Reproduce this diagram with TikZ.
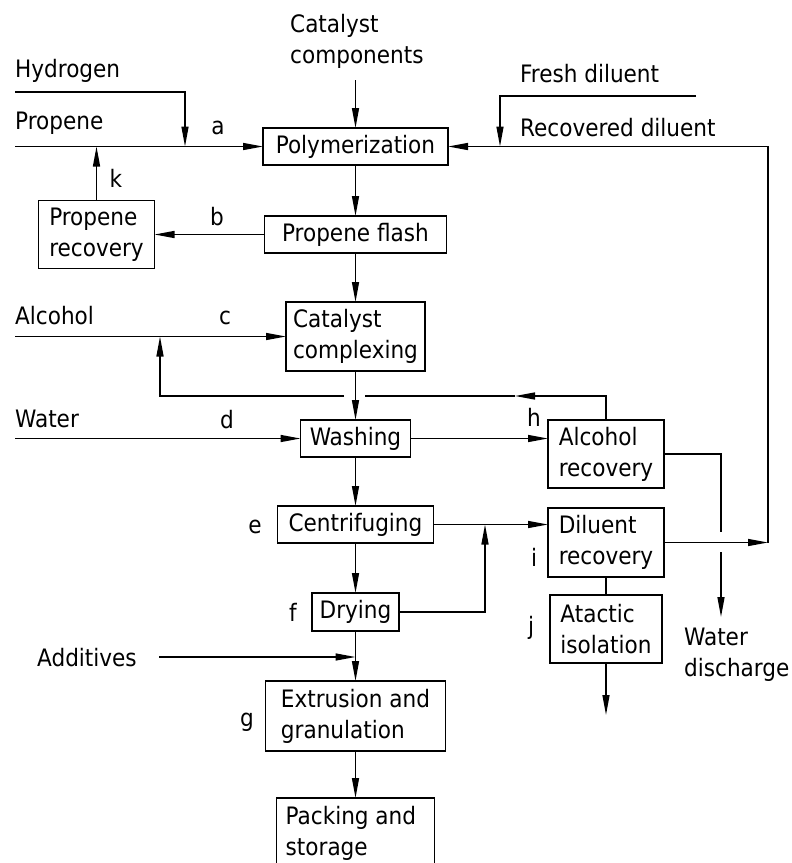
\documentclass[tikz,border=0pt]{standalone}
\usepackage{fontspec}
\setmainfont{DejaVu Sans Condensed}
\usetikzlibrary{positioning}
\usetikzlibrary{arrows.meta}

\begin{document}
\begin{tikzpicture}
			[
				x = 1pt, y = -1pt,
				font = \fontsize{24}{31}\selectfont,
				procbox/.style = {draw, rectangle, line width = 1.4pt, align = left, inner sep = 2pt, outer sep = 0pt},
				streamname/.style = {anchor = west, align = left, inner sep = 0pt},
				streamtag/.style = {inner sep = 0pt},
				pipe/.style = {line width = 1.4pt},
				flow/.style = {line width = 1.4pt, -{Triangle[length = 20pt, width = 7pt]}}
			]
			%
			\useasboundingbox (0,0) rectangle (792,863);
			%
			\node (poly) [procbox, minimum width = 185pt, minimum height = 37pt] at (355.5,146.5) {Polymerization};
			\node (flash) [procbox, minimum width = 182pt, minimum height = 37pt, below = 51pt of poly] {Propene flash};
			\node (complex) [procbox, minimum width = 139pt, minimum height = 69pt, below = 49pt of flash] {Catalyst\\complexing};
			\node (wash) [procbox, minimum width = 110pt, minimum height = 37pt, below = 49pt of complex] {Washing};
			\node (centri) [procbox, minimum width = 156pt, minimum height = 37pt, below = 49pt of wash] {Centrifuging};
			\node (dry) [procbox, minimum width = 87pt, minimum height = 38pt, below = 50pt of centri] {Drying};
			\node (extrude) [procbox, minimum width = 180pt, minimum height = 70pt, below = 50pt of dry] {Extrusion and\\granulation};
			\node (pack) [procbox, minimum width = 158pt, minimum height = 72pt, below = 47pt of extrude] {};
			\node (packtext) [streamname, anchor = north west] at ([shift = {(9,8)}]pack.north west) {Packing and\\storage};
			%
			\node (prec) [procbox, minimum width = 116pt, minimum height = 68pt, left = 110pt of flash] {Propene\\recovery};
			\node (alcrec) [procbox, minimum width = 116pt, minimum height = 68pt] at (606,454) {Alcohol\\recovery};
			\node (dilrec) [procbox, minimum width = 116pt, minimum height = 69pt] at (606,542.5) {Diluent\\recovery};
			\node (atactic) [procbox, minimum width = 112pt, minimum height = 68pt, below = 18pt of dilrec] {Atactic\\isolation};
			%
			\node (hydrogen) [streamname] at (15,71) {Hydrogen};
			\node (propene) [streamname] at (15,123) {Propene};
			\node (catcomp) [streamname] at (290,41) {Catalyst\\components};
			\node (freshdil) [streamname] at (520,74) {Fresh diluent};
			\node (recdil) [streamname] at (520,128) {Recovered diluent};
			\node (alcohol) [streamname] at (15,316) {Alcohol};
			\node (water) [streamname] at (15,419) {Water};
			\node (additives) [streamname] at (37,658) {Additives};
			\node (waterdis) [streamname] at (684,655) {Water\\discharge};
			%
			\node (taga) [streamtag] at (218,128) {a};
			\node (tagb) [streamtag] at (217,217) {b};
			\node (tagc) [streamtag] at (225,318) {c};
			\node (tagd) [streamtag] at (227,420) {d};
			\node (tage) [streamtag] at (255,527) {e};
			\node (tagf) [streamtag] at (293,612) {f};
			\node (tagg) [streamtag] at (247,722) {g};
			\node (tagh) [streamtag] at (534,417) {h};
			\node (tagi) [streamtag] at (534,557) {i};
			\node (tagj) [streamtag] at (531,628) {j};
			\node (tagk) [streamtag] at (116,178) {k};
			%
			\coordinate (hydin) at (15,92);
			\coordinate (hydjoin) at (185,146.5);
			\coordinate (propin) at (15,146.5);
			\coordinate (catin) at (355.5,80);
			\coordinate (freshin) at (696,96);
			\coordinate (freshjoin) at (500,146.5);
			\coordinate (dilturn) at (768,542.5);
			\coordinate (alcin) at (15,336.5);
			\coordinate (alcjoin) at (160,336.5);
			\coordinate (alcmid) at (515,396);
			\coordinate (gapleft) at (344,396);
			\coordinate (gapright) at (365,396);
			\coordinate (waterin) at (15,438.5);
			\coordinate (drymerge) at (485,524.5);
			\coordinate (wdgaptop) at (721,532);
			\coordinate (wdgapbot) at (721,552);
			\coordinate (wdout) at (721,617);
			\coordinate (atacout) at (606,715);
			\coordinate (addin) at (159,657);
			%
			\draw [flow] (hydin) -| (hydjoin);
			\draw [flow] (propin) -- (poly);
			\draw [flow] (catin) -- (poly);
			\draw [flow] (poly) -- (flash);
			\draw [flow] (flash) -- (prec);
			\draw [flow] (prec) -- (prec.north |- propin);
			\draw [flow] (flash) -- (complex);
			%
			\draw [flow] (freshin) -| (freshjoin);
			\draw [flow] (dilrec) -- (dilturn);
			\draw [flow] (dilturn) |- (poly);
			%
			\draw [flow] (alcin) -- (complex);
			\draw [flow] (complex) -- (wash);
			\draw [flow] (waterin) -- (wash);
			\draw [flow] (wash) -- (wash -| alcrec.west);
			\draw [flow] (alcrec) |- (alcmid);
			\draw [pipe] (alcmid) -- (gapright);
			\draw [flow] (gapleft) -| (alcjoin);
			%
			\draw [flow] (wash) -- (centri);
			\draw [flow] (centri) -- (centri -| dilrec.west);
			\draw [flow] (centri) -- (dry);
			\draw [flow] (dry) -| (drymerge);
			\draw [pipe] (alcrec) -| (wdgaptop);
			\draw [flow] (wdgapbot) -- (wdout);
			\draw [pipe] (dilrec) -- (atactic);
			\draw [flow] (atactic) -- (atacout);
			%
			\draw [flow] (dry) -- (extrude);
			\draw [flow] (addin) -- (addin -| dry.south);
			\draw [flow] (extrude) -- (pack);
			%
		\end{tikzpicture}
\end{document}
